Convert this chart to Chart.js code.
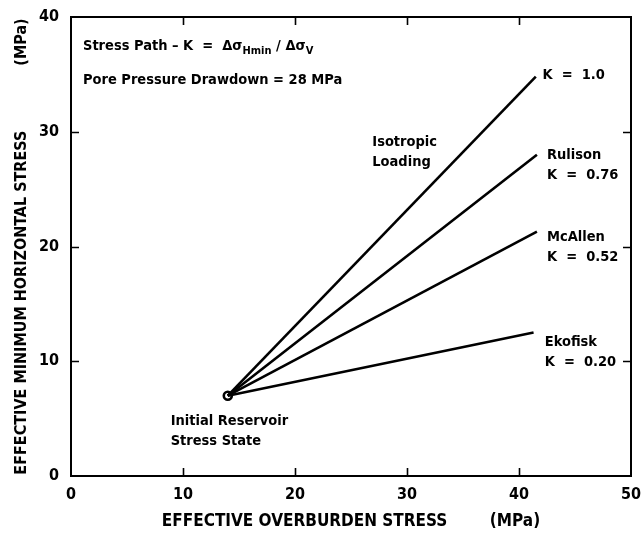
<!DOCTYPE html>
<html><head><meta charset="utf-8">
<script src="https://cdn.jsdelivr.net/npm/chart.js@4"></script>
<style>html,body{margin:0;padding:0;background:#fff}</style>
</head><body>
<canvas id="c" width="641" height="533"></canvas>
<script>
// ---- data ----
const origin = [14, 7];
const seriesNames = ['K = 1.0', 'Rulison K = 0.76', 'McAllen K = 0.52', 'Ekofisk K = 0.20'];
const endX = [41.5, 41.6, 41.6, 41.3];
const endY = [34.8, 28.0, 21.3, 12.5];
const xTicks = [0, 10, 20, 30, 40, 50];
const yTicks = [0, 10, 20, 30, 40];
const xTitle = 'EFFECTIVE OVERBURDEN STRESS        (MPa)';
const yTitle = 'EFFECTIVE MINIMUM HORIZONTAL STRESS             (MPa)';
const noteLines = ['Pore Pressure Drawdown = 28 MPa'];
const labelTexts = [
  ['K = 1.0'],
  ['Isotropic', 'Loading'],
  ['Rulison', 'K = 0.76'],
  ['McAllen', 'K = 0.52'],
  ['Ekofisk', 'K = 0.20'],
  ['Initial Reservoir', 'Stress State']
];
// ---- layout (data coordinates of label anchors) ----
const labelAnchors = [[42.1, 34.95], [26.9, 29.1], [42.5, 27.97], [42.5, 20.83], [42.3, 11.68], [8.9, 4.79]];
const lineGapPx = 20;

const FONT = '"DejaVu Sans Condensed", "DejaVu Sans", sans-serif';

const datasets = endX.map((ex, i) => ({
  label: seriesNames[i],
  data: [{x: origin[0], y: origin[1]}, {x: ex, y: endY[i]}],
  showLine: true,
  borderColor: '#000',
  borderWidth: 2.6,
  pointRadius: 0,
  fill: false
}));
datasets.push({
  label: 'Initial Reservoir Stress State',
  data: [{x: origin[0], y: origin[1]}],
  pointRadius: 4,
  pointBorderWidth: 2.6,
  pointBorderColor: '#000',
  pointBackgroundColor: '#fff',
  showLine: false
});

const deco = {
  id: 'deco',
  afterDatasetsDraw(chart) {
    const {ctx, chartArea: a, scales: {x, y}} = chart;
    ctx.save();
    ctx.strokeStyle = '#000';
    ctx.lineWidth = 2;
    ctx.strokeRect(a.left, a.top, a.right - a.left, a.bottom - a.top);
    ctx.lineWidth = 1.6;
    ctx.beginPath();
    xTicks.slice(1, -1).forEach(v => {
      const px = Math.round(x.getPixelForValue(v)) + 0.5;
      ctx.moveTo(px, a.bottom); ctx.lineTo(px, a.bottom - 8);
      ctx.moveTo(px, a.top); ctx.lineTo(px, a.top + 8);
    });
    yTicks.slice(1, -1).forEach(v => {
      const py = Math.round(y.getPixelForValue(v)) + 0.5;
      ctx.moveTo(a.left, py); ctx.lineTo(a.left + 8, py);
      ctx.moveTo(a.right, py); ctx.lineTo(a.right - 8, py);
    });
    ctx.stroke();

    ctx.fillStyle = '#000';
    ctx.textBaseline = 'middle';
    ctx.textAlign = 'left';
    const main = 'bold 14.5px ' + FONT;
    const sub = 'bold 11px ' + FONT;
    // equation line
    let px = x.getPixelForValue(1.07);
    const py = y.getPixelForValue(37.47);
    const parts = [
      ['Stress Path \u2013 K  =  ', main, 0],
      ['\u0394\u03c3', main, 0],
      ['Hmin', sub, 5],
      [' / \u0394\u03c3', main, 0],
      ['V', sub, 5]
    ];
    parts.forEach(([t, f, dy]) => {
      ctx.font = f;
      ctx.fillText(t, px, py + dy);
      px += ctx.measureText(t).width;
    });
    ctx.font = main;
    ctx.fillText(noteLines[0], x.getPixelForValue(1.07), y.getPixelForValue(34.51));
    labelTexts.forEach((lines, i) => {
      const lx = x.getPixelForValue(labelAnchors[i][0]);
      const ly = y.getPixelForValue(labelAnchors[i][1]);
      lines.forEach((t, j) => ctx.fillText(t.replace(' = ', '  =  '), lx, ly + j * lineGapPx));
    });
    ctx.restore();
  }
};

new Chart(document.getElementById('c'), {
  type: 'scatter',
  data: {datasets},
  options: {
    responsive: false,
    animation: false,
    layout: {padding: {left: 0, right: 10, top: 17, bottom: 0}},
    plugins: {legend: {display: false}, tooltip: {enabled: false}},
    scales: {
      x: {
        type: 'linear', min: 0, max: 50,
        afterBuildTicks: s => { s.ticks = xTicks.map(v => ({value: v})); },
        afterFit: s => { s.height = 57; s.paddingLeft = 0; s.paddingRight = 0; },
        grid: {display: false, drawTicks: false},
        border: {display: false},
        ticks: {color: '#000', font: {family: FONT, size: 16, weight: 'bold'}, padding: 9, maxRotation: 0},
        title: {display: true, text: xTitle, color: '#000', font: {family: FONT, size: 17, weight: 'bold'}, padding: {top: 0, bottom: 1}}
      },
      y: {
        type: 'linear', min: 0, max: 40,
        afterBuildTicks: s => { s.ticks = yTicks.map(v => ({value: v})); },
        afterFit: s => { s.width = 71; s.paddingTop = 0; s.paddingBottom = 0; },
        grid: {display: false, drawTicks: false},
        border: {display: false},
        ticks: {color: '#000', font: {family: FONT, size: 16, weight: 'bold'}, padding: 12},
        title: {display: true, text: yTitle, color: '#000', font: {family: FONT, size: 16, weight: 'bold'}, padding: {top: 12, bottom: 0}}
      }
    }
  },
  plugins: [deco]
});
</script>
</body></html>
